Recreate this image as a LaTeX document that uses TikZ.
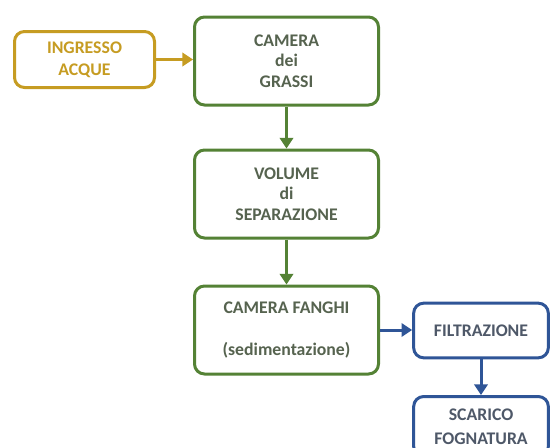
\documentclass[tikz,border=0pt]{standalone}
\usepackage{fontspec}
\setmainfont{Carlito}
\usepackage{tikz}
\usetikzlibrary{positioning, arrows.meta}
\definecolor{oro}{HTML}{C69C22}
\definecolor{verde}{HTML}{548235}
\definecolor{blu}{HTML}{2F5597}
\definecolor{testoverde}{HTML}{56634F}
\definecolor{testoblu}{HTML}{4E5868}
\tikzset{
  box/.style={draw, rounded corners=7.5pt, line width=2.25pt, fill=white, align=center, inner sep=0pt},
  gialla/.style={box, draw=oro, text=oro, minimum width=105pt, minimum height=42pt,
    font=\bfseries\fontsize{13.3}{16.5}\selectfont},
  verdebox/.style={box, draw=verde, text=testoverde, minimum width=138pt, minimum height=66pt,
    font=\bfseries\fontsize{13.3}{15.4}\selectfont},
  blubox/.style={box, draw=blu, text=testoblu, minimum width=101pt, minimum height=41pt,
    font=\bfseries\fontsize{13.3}{18}\selectfont},
  freccia/.style={line width=2.25pt, -{Triangle[length=8pt,width=10pt]}},
}

\begin{document}
\begin{tikzpicture}[x=0.75pt,y=-0.75pt]
\clip (0,0) rectangle (552,447);

\node[gialla](ingresso) at (84.5,59.5) {INGRESSO\\ACQUE};
\node[verdebox](grassi) at (286.5,61) {CAMERA\\dei\\GRASSI};
\node[verdebox](volume) at (286.5,194) {VOLUME\\di\\SEPARAZIONE};
\node[verdebox](fanghi) at (286.5,330) {CAMERA FANGHI\\[15.4pt](sedimentazione)};
\node[blubox](filtrazione) at (481,330.5) {FILTRAZIONE};
\node[blubox, minimum height=45pt](scarico) at (481,426.5) {SCARICO\\FOGNATURA};

\draw[freccia, draw=oro]  (ingresso.east) -- (ingresso.east -| grassi.west);
\draw[freccia, draw=verde] (grassi) -- (volume);
\draw[freccia, draw=verde] (volume) -- (fanghi);
\draw[freccia, draw=blu] (fanghi.east) -- (fanghi.east -| filtrazione.west);
\draw[freccia, draw=blu] (filtrazione) -- (scarico);

\end{tikzpicture}
\end{document}
